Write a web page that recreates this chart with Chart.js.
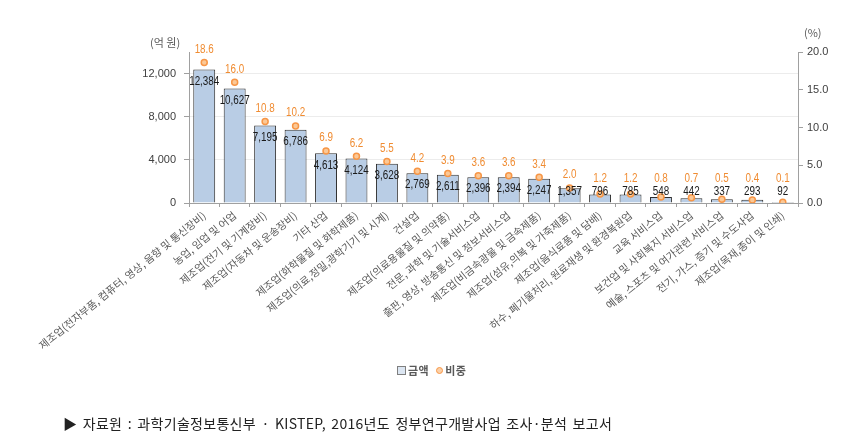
<!DOCTYPE html>
<html>
<head>
<meta charset="utf-8">
<script src="https://cdn.jsdelivr.net/npm/chart.js@4/dist/chart.umd.min.js"></script>
<style>
  html, body { margin: 0; padding: 0; background: #fff; }
  #wrap { position: relative; width: 855px; height: 443px; overflow: hidden; }
  #c { position: absolute; left: 0; top: 0; }
  .unit { position: absolute; font: 11px "Noto Sans CJK KR", sans-serif; color: #595959; }
  #legend { position: absolute; left: 397px; top: 362px; font: bold 11px "Noto Sans CJK KR", sans-serif; color: #595959; white-space: nowrap; letter-spacing: 0.5px; }
  #legend .sq { display: inline-block; width: 7px; height: 7px; border: 1px solid #7f7f7f; background: #dce6f2; margin-right: 2px; vertical-align: 0px; }
  #legend .ci { display: inline-block; width: 5px; height: 5px; border: 1.5px solid #f79646; background: #fbd0a8; border-radius: 50%; margin: 0 2px 0 7px; vertical-align: 1px; }
  #source { position: absolute; left: 63px; top: 413px; font: 14px "Noto Sans CJK KR", sans-serif; color: #222; white-space: nowrap; letter-spacing: 0.3px; word-spacing: 2px; }
</style>
</head>
<body>
<div id="wrap">
  <canvas id="c" width="855" height="443"></canvas>
  <div class="unit" style="left:150px; top:34px;">(억 원)</div>
  <div class="unit" style="left:804px; top:24px;">(%)</div>
  <div id="legend"><span class="sq"></span>금액<span class="ci"></span>비중</div>
  <div id="source">▶ 자료원 : 과학기술정보통신부 · KISTEP, 2016년도 정부연구개발사업 조사·분석 보고서</div>
</div>
<script>
const categories = [
  '제조업(전자부품, 컴퓨터, 영상, 음향 및 통신장비)',
  '농업, 임업 및 어업',
  '제조업(전기 및 기계장비)',
  '제조업(자동차 및 운송장비)',
  '기타 산업',
  '제조업(화학물질 및 화학제품)',
  '제조업(의료,정밀,광학기기 및 시계)',
  '건설업',
  '제조업(의료용물질 및 의약품)',
  '전문, 과학 및 기술서비스업',
  '출판, 영상, 방송통신 및 정보서비스업',
  '제조업(비금속광물 및 금속제품)',
  '제조업(섬유,의복 및 가죽제품)',
  '제조업(음식료품 및 담배)',
  '하수, 폐기물처리, 원료재생 및 환경복원업',
  '교육 서비스업',
  '보건업 및 사회복지 서비스업',
  '예술, 스포츠 및 여가관련 서비스업',
  '전기, 가스, 증기 및 수도사업',
  '제조업(목재,종이 및 인쇄)'
];
const amounts = [12384, 10627, 7195, 6786, 4613, 4124, 3628, 2769, 2611, 2396, 2394, 2247, 1357, 796, 785, 548, 442, 337, 293, 92];
const shares = [18.6, 16.0, 10.8, 10.2, 6.9, 6.2, 5.5, 4.2, 3.9, 3.6, 3.6, 3.4, 2.0, 1.2, 1.2, 0.8, 0.7, 0.5, 0.4, 0.1];
const leftTicks = [0, 4000, 8000, 12000];
const rightTicks = [0, 5, 10, 15, 20];

const labelFont = '12px "Liberation Sans", sans-serif';
const SX = 0.82;

function narrowText(ctx, text, x, y) {
  ctx.save();
  ctx.translate(x, y);
  ctx.scale(SX, 1);
  ctx.fillText(text, 0, 0);
  ctx.restore();
}

const labelPlugin = {
  id: 'valueLabels',
  afterDatasetsDraw(chart) {
    const ctx = chart.ctx;
    const barMeta = chart.getDatasetMeta(0);
    const lineMeta = chart.getDatasetMeta(1);
    const base = chart.scales.y.getPixelForValue(0);
    ctx.save();
    ctx.font = labelFont;
    ctx.textAlign = 'center';
    ctx.textBaseline = 'middle';
    barMeta.data.forEach((bar, i) => {
      const y = Math.min(bar.y + 12, base - 11);
      ctx.fillStyle = '#1a1a1a';
      narrowText(ctx, amounts[i].toLocaleString('en-US'), bar.x, y);
    });
    lineMeta.data.forEach((pt, i) => {
      const y = Math.min(pt.y - 13, 179);
      ctx.fillStyle = '#f08c32';
      narrowText(ctx, shares[i].toFixed(1), pt.x, y);
    });
    ctx.restore();
  }
};

new Chart(document.getElementById('c'), {
  type: 'bar',
  data: {
    labels: categories,
    datasets: [
      {
        label: '금액',
        data: amounts,
        yAxisID: 'y',
        backgroundColor: '#b9cde5',
        borderColor: '#2e2e2e',
        borderWidth: 1,
        categoryPercentage: 0.72,
        barPercentage: 1.0,
        order: 2
      },
      {
        label: '비중',
        type: 'line',
        data: shares,
        yAxisID: 'y1',
        showLine: false,
        pointRadius: 3,
        pointBorderWidth: 1.5,
        pointBackgroundColor: '#fbc896',
        pointBorderColor: '#f79646',
        order: 1
      }
    ]
  },
  options: {
    responsive: false,
    animation: false,
    devicePixelRatio: 1,
    layout: { padding: { top: 52, left: 0, right: 0, bottom: 0 } },
    plugins: { legend: { display: false }, tooltip: { enabled: false } },
    scales: {
      x: {
        grid: { offset: true, drawOnChartArea: false, tickLength: 4, tickColor: '#a0a0a0' },
        border: { color: '#a0a0a0' },
        ticks: {
          autoSkip: false,
          minRotation: 39,
          maxRotation: 39,
          padding: 2,
          color: '#595959',
          font: { family: '"Noto Sans CJK KR", sans-serif', size: 10.5 }
        },
        afterFit(s) { s.height = 240; }
      },
      y: {
        position: 'left',
        min: 0,
        max: 14000,
        afterBuildTicks(s) { s.ticks = leftTicks.concat([14000]).map(v => ({ value: v })); },
        grid: {
          drawOnChartArea: true,
          color: (c) => (c.tick && (c.tick.value === 0 || c.tick.value === 14000)) ? 'rgba(0,0,0,0)' : '#ececec',
          tickColor: (c) => (c.tick && c.tick.value === 14000) ? 'rgba(0,0,0,0)' : '#a0a0a0',
          tickLength: 5
        },
        border: { color: '#a0a0a0' },
        ticks: {
          padding: 8,
          color: '#404040',
          font: { family: '"Liberation Sans", sans-serif', size: 11 },
          callback: (v) => leftTicks.includes(v) ? v.toLocaleString('en-US') : ''
        },
        afterFit(s) { s.width = 189; }
      },
      y1: {
        position: 'right',
        min: 0,
        max: 20,
        afterBuildTicks(s) { s.ticks = rightTicks.map(v => ({ value: v })); },
        grid: { drawOnChartArea: false, tickLength: 5, tickColor: '#a0a0a0' },
        border: { color: '#a0a0a0' },
        ticks: {
          padding: 4,
          color: '#404040',
          font: { family: '"Liberation Sans", sans-serif', size: 11 },
          callback: (v) => Number(v).toFixed(1)
        },
        afterFit(s) { s.width = 57; }
      }
    }
  },
  plugins: [labelPlugin]
});
</script>
</body>
</html>
